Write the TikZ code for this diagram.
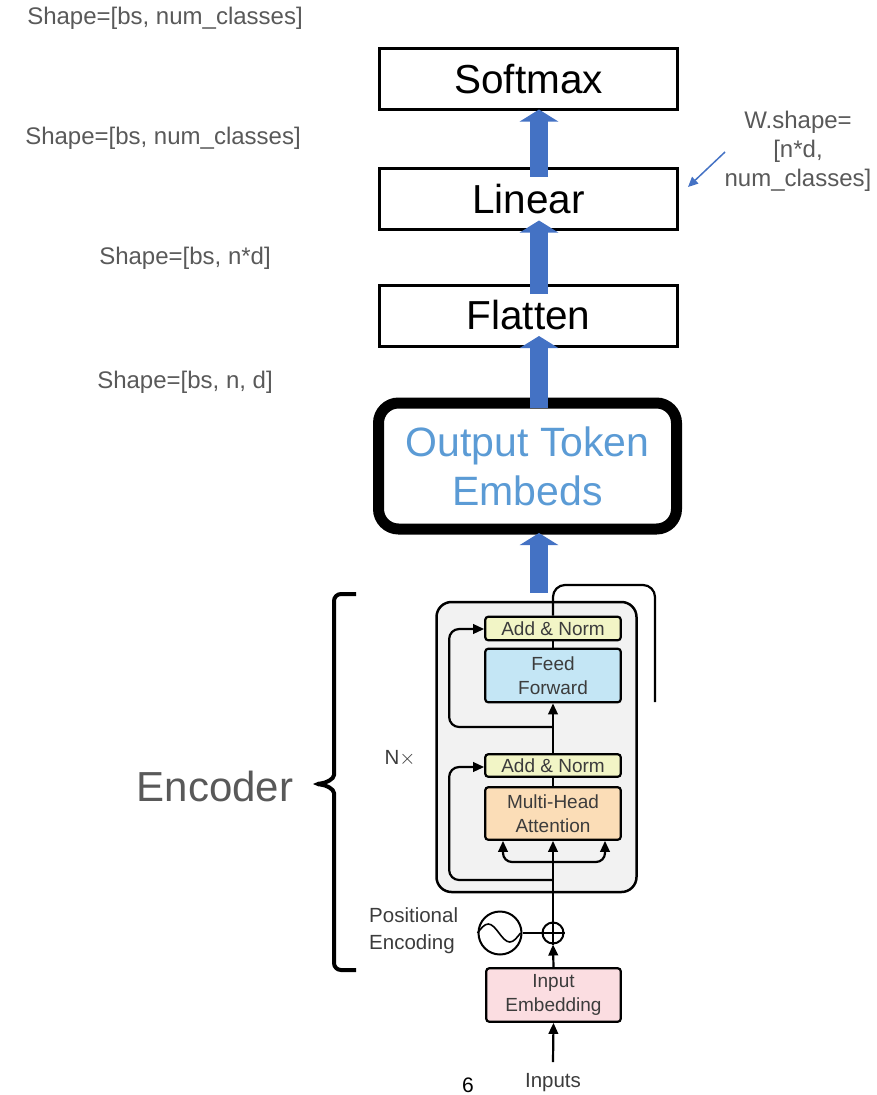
\documentclass[tikz,border=0pt]{standalone}
\usepackage{fontspec}
\setmainfont{Liberation Sans}
\usetikzlibrary{arrows.meta,calc}
\definecolor{blueA}{HTML}{4472C4}
\definecolor{blueT}{HTML}{5B9BD5}
\definecolor{grayT}{HTML}{595959}
\definecolor{darkT}{HTML}{3C3C3C}
\definecolor{encfill}{HTML}{F2F2F2}
\definecolor{anfill}{HTML}{F2F5C6}
\definecolor{fffill}{HTML}{C4E6F5}
\definecolor{mhafill}{HTML}{FBDDB7}
\definecolor{embfill}{HTML}{FBDDE1}
\tikzset{
  topbox/.style={draw, line width=3pt, minimum width=298pt, minimum height=61pt, inner sep=0pt,
    font=\fontsize{40.5}{44}\selectfont},
  bigarrow/.style={draw=blueA, line width=18pt, -{Triangle[width=38pt,length=12pt,fill=blueA]}},
  shapelbl/.style={text=grayT, font=\fontsize{24}{29}\selectfont, inner sep=0pt},
  tbox/.style={draw, line width=2.2pt, rounded corners=3pt, minimum width=135.5pt, inner sep=0pt,
    align=center, text=darkT, font=\fontsize{19}{24}\selectfont},
  tline/.style={line width=2.2pt},
  tarrow/.style={line width=2.2pt, -{Triangle[length=11pt,width=9.5pt]}},
  tlbl/.style={text=darkT, font=\fontsize{20.5}{27}\selectfont, inner sep=0pt},
}
\begin{document}
\begin{tikzpicture}[x=1pt,y=-1pt]
\useasboundingbox (0,0) rectangle (877,1095);

% left shape labels
\node[shapelbl] (s1) at (165,18) {Shape=[bs, num\_classes]};
\node[shapelbl] (s2) at (163,138) {Shape=[bs, num\_classes]};
\node[shapelbl] (s3) at (185,258) {Shape=[bs, n*d]};
\node[shapelbl] (s4) at (185,382) {Shape=[bs, n, d]};

% top boxes
\node[topbox] (softmax) at (528.5,79) {Softmax};
\node[topbox] (linear) at (528.5,199) {Linear};
\node[topbox] (flatten) at (528.5,315.5) {Flatten};
\node[draw, line width=11pt, rounded corners=20pt, minimum width=298pt, minimum height=126pt,
  inner sep=0pt, align=center, text=blueT, font=\fontsize{41}{49}\selectfont]
  (ote) at (527.5,466) {Output Token\\Embeds};

% W.shape note
\node[shapelbl, align=center] (wnote) at (798,151) {W.shape=\\{}[n*d,\\num\_classes]};
\coordinate (wfrom) at (725,152);
\draw[blueA, line width=1.5pt, -{Triangle[length=10pt,width=9pt]}] (wfrom) -- ($(linear.east)+(9,-12)$);

% encoder block
\node[draw, line width=2.5pt, rounded corners=15pt, fill=encfill, minimum width=200pt,
  minimum height=290pt] (enc) at (536.5,747) {};
\node[tbox, fill=anfill, minimum height=23.5pt] (an2) at (553,628.5) {Add \& Norm};
\node[tbox, fill=fffill, minimum height=53.5pt] (ff) at (553,675.5) {Feed\\Forward};
\node[tbox, fill=anfill, minimum height=22.5pt] (an1) at (553,765.5) {Add \& Norm};
\node[tbox, fill=mhafill, minimum height=52.5pt] (mha) at (553,813.5) {Multi-Head\\Attention};
\node[tbox, fill=embfill, minimum height=53.5pt, minimum width=134.5pt] (emb) at (553.5,995) {Input\\Embedding};
\node[draw, circle, line width=2pt, minimum size=21pt, inner sep=0pt] (plus) at (553,933) {};
\draw[line width=1.6pt] (plus.west) -- (plus.east) (plus.north) -- (plus.south);
\node[draw, circle, line width=2pt, minimum size=43pt, inner sep=0pt] (pe) at (500,933) {};
\draw[line width=1.6pt] (pe.west) sin ++(10.75,-9) cos ++(10.75,9) sin ++(10.75,9) cos ++(10.75,-9);

\node[tlbl] (nx) at (400,758) {N$\times$};
\node[tlbl, anchor=west, align=left] (peL) at (369,931) {Positional\\Encoding};
\node[tlbl] (inputs) at (553,1083) {Inputs};
\node[font=\fontsize{21}{24}\selectfont, inner sep=0pt] (six) at (468,1085) {6};

% encoder connectors
\coordinate (in) at (553,1062);
\coordinate (sp) at (553,862);
\coordinate (r1) at (553,880);
\coordinate (r2) at (553,727);
\coordinate (oc) at (655,585);
\coordinate (oe) at (655,702);
\draw[tarrow] (in) -- (emb.south);
\draw[tarrow] (emb.north) -- (plus.south);
\draw[tline] (pe.east) -- (plus.west);
\draw[tarrow] (plus.north) -- (mha.south);
\draw[tarrow, rounded corners=9pt] (sp) -| ($(mha.south)+(-50,0)$);
\draw[tarrow, rounded corners=9pt] (sp) -| ($(mha.south)+(52,0)$);
\draw[tarrow, rounded corners=10pt] (r1) -| ($(an1.west)+(-35,1.5)$) -- ($(an1.west)+(0,1.5)$);
\draw[tline] (mha.north) -- (an1.south);
\draw[tarrow] (an1.north) -- (ff.south);
\draw[tarrow, rounded corners=10pt] (r2) -| ($(an2.west)+(-35,0.5)$) -- ($(an2.west)+(0,0.5)$);
\draw[tline] (ff.north) -- (an2.south);
\draw[tline, rounded corners=12pt] (an2.north) |- (oc) -- (oe);

% blue arrows
\draw[bigarrow] ($(linear.north)+(10.5,9.5)$) -- ($(softmax.south)+(10.5,-1.5)$);
\draw[bigarrow] ($(flatten.north)+(10.5,10.5)$) -- ($(linear.south)+(10.5,-10.5)$);
\draw[bigarrow] ($(ote.north)+(11.5,10.5)$) -- ($(flatten.south)+(10.5,-11.5)$);
\draw[bigarrow] ($(enc.north)+(2.5,-8)$) -- ($(ote.south)+(11.5,-1.5)$);

% brace and Encoder label
\draw[line width=4pt, rounded corners=7pt] (356,594) -- (334,594) -- (334,768)
  .. controls (334,779) and (326,783) .. (314,784)
  .. controls (326,785) and (334,789) .. (334,800) -- (334,970) -- (356,970);
\node[text=grayT, font=\fontsize{42}{46}\selectfont, inner sep=0pt] (encl) at (215,786) {Encoder};
\end{tikzpicture}
\end{document}
